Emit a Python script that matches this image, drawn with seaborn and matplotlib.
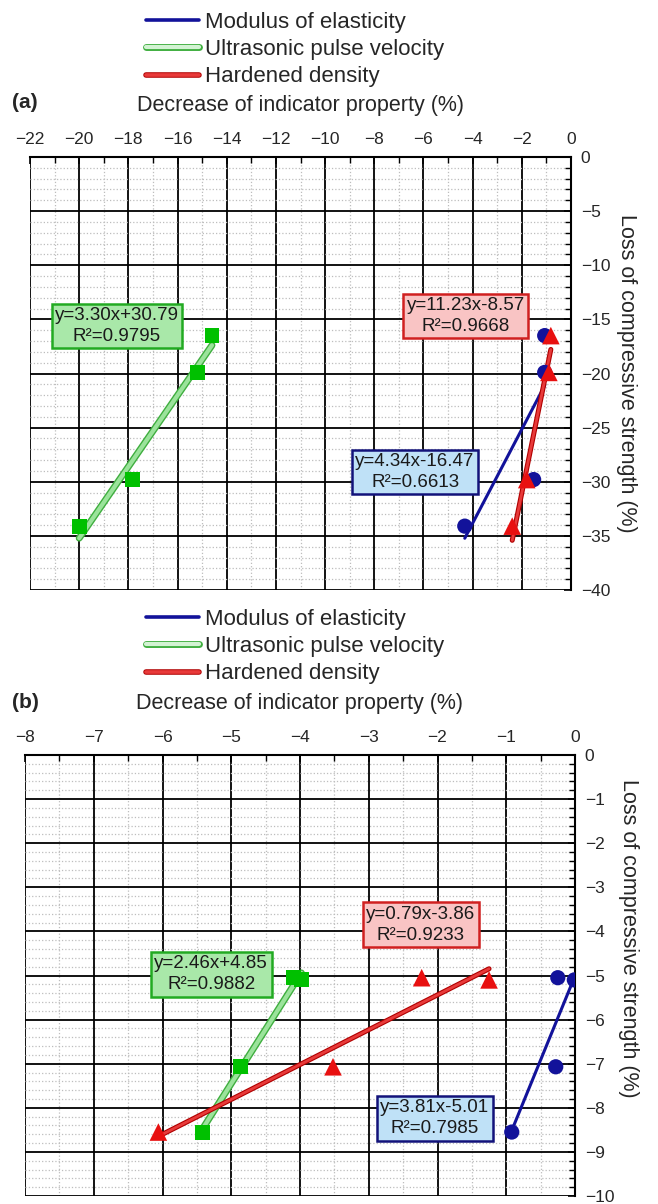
import pandas as pd
import matplotlib
matplotlib.use("Agg")
import matplotlib.pyplot as plt
import matplotlib.patheffects as pe
from matplotlib.lines import Line2D
from matplotlib.ticker import MultipleLocator
import seaborn as sns

series = ["Modulus of elasticity", "Ultrasonic pulse velocity", "Hardened density"]

# panel (a)
strength_a = [-16.5, -19.9, -29.8, -34.1]
moe_a = [-1.07, -1.07, -1.52, -4.32]
upv_a = [-14.6, -15.2, -17.84, -20.0]
dens_a = [-0.82, -0.90, -1.80, -2.39]
slope_a = [4.34, 3.30, 11.23]
icept_a = [-16.47, 30.79, -8.57]
r2_a = [0.6613, 0.9795, 0.9668]

# panel (b)
strength_b = [-5.05, -5.10, -7.07, -8.55]
moe_b = [-0.25, -0.01, -0.28, -0.92]
upv_b = [-4.10, -3.98, -4.87, -5.42]
dens_b = [-2.23, -1.25, -3.52, -6.06]
slope_b = [3.81, 2.46, 0.79]
icept_b = [-5.01, 4.85, -3.86]
r2_b = [0.7985, 0.9882, 0.9233]

sns.set_style("white")
plt.rcParams['font.family'] = ['Liberation Sans', 'DejaVu Sans']

colors = {series[0]: "#12129a", series[1]: "#00c000", series[2]: "#e81010"}
markers = {series[0]: "o", series[1]: "s", series[2]: "^"}
msize = {series[0]: 120, series[1]: 115, series[2]: 160}
# fit line look: (line colour, width, outline colour, outline width)
line_look = {series[0]: ("#12129a", 2.2, None, 0),
             series[1]: ("#9be39b", 3.0, "#3fae3f", 5.0),
             series[2]: ("#e83a3a", 2.0, "#b00000", 3.6)}
box_look = {series[0]: ("#bfe1f7", "#12127a"),
            series[1]: ("#a9e8a9", "#22aa22"),
            series[2]: ("#f9c4c4", "#d02020")}


def make_df(xs_list, ys):
    rows = []
    for name, xs in zip(series, xs_list):
        for x, y in zip(xs, ys):
            rows.append({"x": x, "y": y, "series": name})
    return pd.DataFrame(rows)


def panel(ax, df, slopes, icepts, r2s, box_pos):
    for name, m, b in zip(series, slopes, icepts):
        sub = df[df.series == name]
        xs = [sub.x.min(), sub.x.max()]
        fit = pd.DataFrame({"x": xs, "y": [m * v + b for v in xs]})
        col, lw, ecol, elw = line_look[name]
        effects = [pe.Stroke(linewidth=elw, foreground=ecol), pe.Normal()] if ecol else None
        sns.lineplot(data=fit, x="x", y="y", color=col, lw=lw, ax=ax,
                     path_effects=effects, zorder=3, estimator=None, sort=False)
    for name in series:
        sns.scatterplot(data=df[df.series == name], x="x", y="y", color=colors[name],
                        marker=markers[name], s=msize[name], edgecolor="none",
                        legend=False, ax=ax, zorder=4)
    for name, m, b, r2, pos in zip(series, slopes, icepts, r2s, box_pos):
        fc, ec = box_look[name]
        ax.text(pos[0], pos[1], f"y={m:.2f}x{b:+.2f}\nR\u00b2={r2:.4f}",
                ha="center", va="center", fontsize=13.5, linespacing=1.3,
                color="#1a1a1a", zorder=6,
                bbox=dict(boxstyle="square,pad=0.18", fc=fc, ec=ec, lw=1.8))


def style_axes(ax, xlim, ylim, xmaj, xmin, ymaj, ymin):
    ax.set_xlim(*xlim)
    ax.set_ylim(*ylim)
    ax.xaxis.set_major_locator(MultipleLocator(xmaj))
    ax.xaxis.set_minor_locator(MultipleLocator(xmin))
    ax.yaxis.set_major_locator(MultipleLocator(ymaj))
    ax.yaxis.set_minor_locator(MultipleLocator(ymin))
    ax.xaxis.set_label_position("top")
    ax.yaxis.set_label_position("right")
    ax.tick_params(which="both", direction="in", top=True, right=True,
                   bottom=False, left=False, labeltop=True, labelbottom=False,
                   labelright=True, labelleft=False, labelsize=12.5, color="black")
    ax.tick_params(which="major", length=5, width=1.2, pad=7)
    ax.tick_params(which="minor", length=4, width=1.0)
    ax.grid(which="major", color="black", lw=1.3)
    ax.grid(which="minor", color="#bdbdbd", ls=":", lw=0.9)
    ax.set_axisbelow(True)
    for side in ["left", "bottom"]:
        ax.spines[side].set_visible(False)
    for side in ["top", "right"]:
        ax.spines[side].set_color("black")
        ax.spines[side].set_linewidth(1.5)
    ax.set_xlabel("Decrease of indicator property (%)", fontsize=15.5, labelpad=15)
    ax.set_ylabel("Loss of compressive strength (%)", fontsize=15.5,
                  rotation=270, va="bottom", labelpad=4)


W, H = 658, 1204
fig = plt.figure(figsize=(W / 100, H / 100), dpi=100)
ax_a = fig.add_axes([30 / W, 1 - 590 / H, 541 / W, 433 / H])
ax_b = fig.add_axes([25 / W, 1 - 1196 / H, 550 / W, 441 / H])

df_a = make_df([moe_a, upv_a, dens_a], strength_a)
df_b = make_df([moe_b, upv_b, dens_b], strength_b)

panel(ax_a, df_a, slope_a, icept_a, r2_a, [(-6.34, -29.1), (-18.46, -15.6), (-4.28, -14.7)])
panel(ax_b, df_b, slope_b, icept_b, r2_b, [(-2.04, -8.24), (-5.29, -4.97), (-2.24, -3.85)])

style_axes(ax_a, (-22, 0), (-40, 0), 2, 1, 5, 1)
style_axes(ax_b, (-8, 0), (-10, 0), 1, 0.5, 1, 0.2)

# the (b) y label sits a little above the middle in the reference
ax_b.yaxis.label.set_va("center")
ax_b.yaxis.label.set_ha("center")
ax_b.yaxis.set_label_coords((629 - 25) / 550, (1196 - 938) / 441)

handles = []
for name in series:
    col, lw, ecol, elw = line_look[name]
    if name == series[1]:
        col = "#d3f3d3"
    effects = [pe.Stroke(linewidth=max(elw, 4.0), foreground=ecol), pe.Normal()] if ecol else None
    handles.append(Line2D([0], [0], color=col, lw=max(lw, 2.6), path_effects=effects, label=name))

for ax, top in [(ax_a, 12), (ax_b, 609)]:
    ax.legend(handles=handles, loc="upper left", bbox_to_anchor=(146 / W, 1 - top / H),
              bbox_transform=fig.transFigure, frameon=False, fontsize=16,
              handlelength=2.4, handletextpad=0.25, labelspacing=0.28,
              borderpad=0, borderaxespad=0)

fig.text(12 / W, 1 - 103 / H, "(a)", fontsize=15, fontweight="bold", va="center")
fig.text(12 / W, 1 - 703 / H, "(b)", fontsize=15, fontweight="bold", va="center")

fig.savefig("out.png", dpi=100)
